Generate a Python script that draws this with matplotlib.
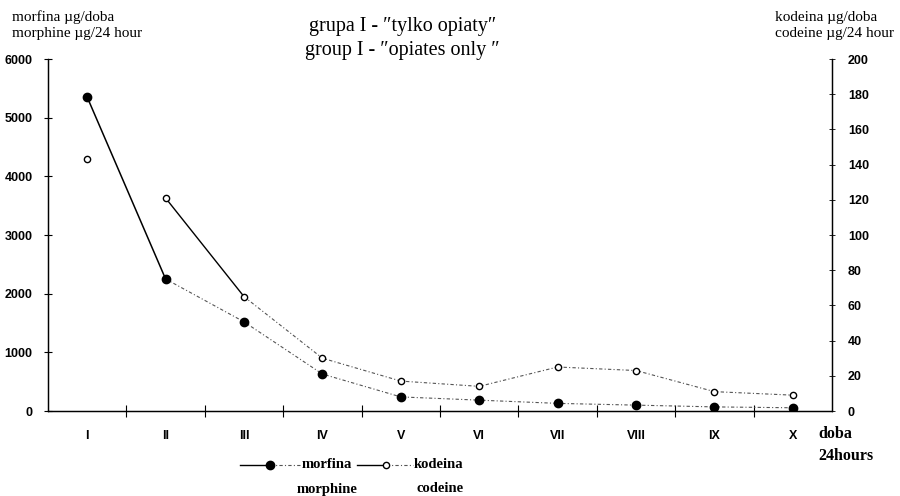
import matplotlib
matplotlib.use("Agg")
import matplotlib.pyplot as plt
from matplotlib.lines import Line2D
import numpy as np

days = ["I", "II", "III", "IV", "V", "VI", "VII", "VIII", "IX", "X"]
morphine = [5350, 2250, 1520, 630, 240, 185, 130, 100, 70, 55]      # ug/24h, left axis
codeine = [143, 121, 65, 30, 17, 14, 25, 23, 11, 9]                  # ug/24h, right axis
left_ticks = [0, 1000, 2000, 3000, 4000, 5000, 6000]
right_ticks = list(range(0, 201, 20))

serif = ["Liberation Serif", "DejaVu Serif"]
sans = "Liberation Sans"

x = np.arange(1, len(days) + 1)

fig = plt.figure(figsize=(9, 4.96), dpi=100)
ax = fig.add_axes([48 / 900, 1 - 411 / 496, (832 - 48) / 900, (411 - 59) / 496])
ax2 = ax.twinx()

dotted = dict(color="#555555", lw=0.8, linestyle=(0, (3, 2, 1, 2)))

# morphine: solid I-II, dotted afterwards
ax.plot(x[:2], morphine[:2], color="black", lw=1.1)
ax.plot(x[1:], morphine[1:], **dotted)
ax.plot(x, morphine, "o", color="black", ms=6, zorder=5)

# codeine: point I alone, solid II-III, dotted afterwards
ax2.plot(x[1:3], codeine[1:3], color="black", lw=1.0)
ax2.plot(x[2:], codeine[2:], **dotted)
ax2.plot(x, codeine, "o", mfc="white", mec="black", mew=1.0, ms=4.5, zorder=5)

ax.set_xlim(0.5, len(days) + 0.5)
ax.set_ylim(0, 6000)
ax2.set_ylim(0, 200)

ax.set_xticks(x[:-1] + 0.5)
ax.set_xticklabels([])
ax.set_xticks(x, minor=True)
ax.set_xticklabels(days, minor=True, fontfamily=sans, fontweight="bold", fontsize=9)
ax.tick_params(axis="x", which="major", direction="inout", length=8, width=0.8)
ax.tick_params(axis="x", which="minor", length=0, pad=14)

ax.set_yticks(left_ticks)
ax.set_yticklabels([str(t) for t in left_ticks], fontfamily=sans, fontweight="bold", fontsize=9)
ax.tick_params(axis="y", direction="inout", length=6, width=0.8, pad=8)
ax2.set_yticks(right_ticks)
ax2.set_yticklabels([str(t) for t in right_ticks], fontfamily=sans, fontweight="bold", fontsize=9)
ax2.tick_params(axis="y", direction="inout", length=5, width=0.6, pad=9)

for a in (ax, ax2):
    a.spines["top"].set_visible(False)
    for s in ("left", "right", "bottom"):
        a.spines[s].set_linewidth(0.9)

fig.text(0.447, 1 - 27 / 496, "grupa I - \u2033tylko opiaty\u2033", ha="center", va="center",
         fontsize=14.5, family=serif)
fig.text(0.447, 1 - 51 / 496, "group I - \u2033opiates only \u2033", ha="center", va="center",
         fontsize=14.5, family=serif)

fig.text(12 / 900, 1 - 17 / 496, "morfina \u00b5g/doba", ha="left", va="center", fontsize=11, family=serif)
fig.text(12 / 900, 1 - 33 / 496, "morphine \u00b5g/24 hour", ha="left", va="center", fontsize=11, family=serif)
fig.text(775 / 900, 1 - 18 / 496, "kodeina \u00b5g/doba", ha="left", va="center", fontsize=11, family=serif)
fig.text(775 / 900, 1 - 33 / 496, "codeine \u00b5g/24 hour", ha="left", va="center", fontsize=11, family=serif)

fig.text(818 / 900, 1 - 434 / 496, "doba", ha="left", va="center", fontsize=11.5,
         fontweight="bold", family=serif)
fig.text(818 / 900, 1 - 456 / 496, "24hours", ha="left", va="center", fontsize=11.5,
         fontweight="bold", family=serif)

# legend drawn by hand to match the two-line labels
ly = 1 - 465 / 496
fig.add_artist(Line2D([240 / 900, 270 / 900], [ly, ly], color="black", lw=1.0, transform=fig.transFigure))
fig.add_artist(Line2D([270 / 900, 300 / 900], [ly, ly], color="#555555", lw=0.8, linestyle=(0, (3, 2, 1, 2)),
                      transform=fig.transFigure))
fig.add_artist(Line2D([270 / 900], [ly], marker="o", color="black", ms=6, transform=fig.transFigure))
fig.text(302 / 900, ly, "morfina", ha="left", va="center", fontsize=10.5, fontweight="bold", family=serif)
fig.text(327 / 900, 1 - 489 / 496, "morphine", ha="center", va="center", fontsize=10.5,
         fontweight="bold", family=serif)

fig.add_artist(Line2D([357 / 900, 386 / 900], [ly, ly], color="black", lw=1.0, transform=fig.transFigure))
fig.add_artist(Line2D([386 / 900, 413 / 900], [ly, ly], color="#555555", lw=0.8, linestyle=(0, (3, 2, 1, 2)),
                      transform=fig.transFigure))
fig.add_artist(Line2D([386 / 900], [ly], marker="o", mfc="white", mec="black", ms=4.5,
                      transform=fig.transFigure))
fig.text(414 / 900, ly, "kodeina", ha="left", va="center", fontsize=10.5, fontweight="bold", family=serif)
fig.text(440 / 900, 1 - 489 / 496, "codeine", ha="center", va="center", fontsize=10.5,
         fontweight="bold", family=serif)

fig.savefig("out.png", dpi=100)
